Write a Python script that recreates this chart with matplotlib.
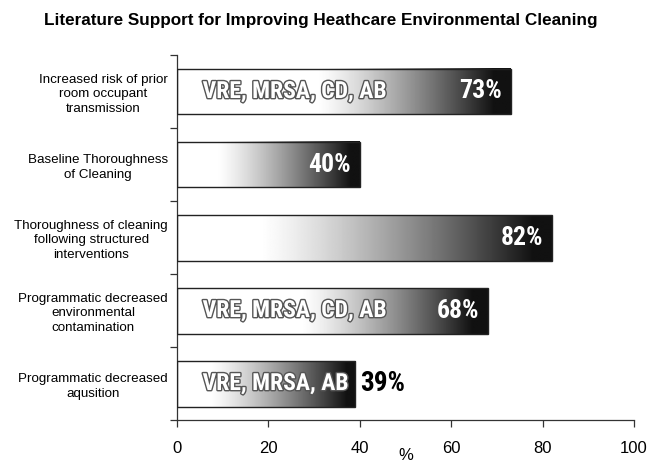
import os
import numpy as np
import matplotlib
matplotlib.use("Agg")
import matplotlib.pyplot as plt
import matplotlib.patheffects as pe
from matplotlib import font_manager as fm

categories = [
    "Increased risk of prior\nroom occupant\ntransmission",
    "Baseline Thoroughness\nof Cleaning",
    "Thoroughness of cleaning\nfollowing structured\ninterventions",
    "Programmatic decreased\nenvironmental\ncontamination",
    "Programmatic decreased\naqusition",
]
values = [73, 40, 82, 68, 39]
value_labels = ["73%", "40%", "82%", "68%", "39%"]
organisms = ["VRE, MRSA, CD, AB", "", "", "VRE, MRSA, CD, AB", "VRE, MRSA, AB"]
xticks = [0, 20, 40, 60, 80, 100]
title = "Literature Support for Improving Heathcare Environmental Cleaning"

# style: fraction of each bar that stays white before the gradient starts
gradient_start = [0.42, 0.22, 0.22, 0.40, 0.18]

# ---- find a condensed bold font if one is installed ----
files = [f.fname for f in fm.fontManager.ttflist]
prefs = ["LiberationSansNarrow-Bold.", "RobotoCondensed-Bold.",
         "OpenSansCondensed-Bold.", "OpenSans_Condensed-Bold.",
         "OpenSans-CondBold.", "NotoSans-CondensedBold.",
         "DejaVuSansCondensed-Bold.", "ArialNarrow-Bold", "arialnb"]
cond_file = None
for p in prefs:
    for fpath in files:
        if p.lower() in os.path.basename(fpath).lower():
            cond_file = fpath
            break
    if cond_file:
        break
if cond_file is None:
    for fpath in files:
        b = os.path.basename(fpath).lower()
        if ("condensed" in b or "narrow" in b) and "bold" in b and "italic" not in b \
                and "semi" not in b and "extra" not in b:
            cond_file = fpath
            break

def cfont(size):
    if cond_file:
        return fm.FontProperties(fname=cond_file, size=size)
    return fm.FontProperties(family="DejaVu Sans", weight="bold",
                             stretch="condensed", size=size * 0.8)

arial = "Liberation Sans"

fig = plt.figure(figsize=(6.5, 4.61), dpi=100)
ax = fig.add_axes([0.2723, 0.0889, 0.7031, 0.7918])

bar_h = 0.63
n = len(values)
t = np.linspace(0, 1, 400)

for i, (v, lab, org) in enumerate(zip(values, value_labels, organisms)):
    a = gradient_start[i]
    s = np.clip((t - a) / (0.95 - a), 0, 1)
    g = 0.07 + 0.93 * (1 - s ** 1.25)
    grad = g[np.newaxis, :]
    y0, y1 = i - bar_h / 2, i + bar_h / 2
    ax.imshow(grad, extent=[0, v, y1, y0], aspect="auto", cmap="gray",
              vmin=0, vmax=1, interpolation="bilinear", zorder=2)
    ax.barh(i, v, height=bar_h, facecolor="none", edgecolor="#222222",
            linewidth=1.0, zorder=3)
    if org:
        ax.text(5.6, i, org, ha="left", va="center", fontproperties=cfont(17),
                color="white", zorder=4,
                path_effects=[pe.withStroke(linewidth=2.0, foreground="#555555")])
    if v > 39.5:
        ax.text(v - 1.9, i, lab, ha="right", va="center", fontproperties=cfont(18.5),
                color="white", zorder=4)
    else:
        ax.text(v + 1.0, i, lab, ha="left", va="center", fontproperties=cfont(19.5),
                color="black", zorder=4)

ax.set_xlim(0, 100)
ax.set_ylim(n - 0.5, -0.5)
ax.set_xticks(xticks)
ax.set_xticklabels([str(x) for x in xticks], fontsize=12, family=arial)
ax.set_yticks(range(n))
ax.set_yticklabels(categories, fontsize=9.6, family=arial, ha="right",
                   multialignment="center", linespacing=1.3)
ax.tick_params(axis="y", which="major", length=0, pad=6.5)
ax.set_yticks(np.arange(-0.5, n, 1), minor=True)
ax.tick_params(axis="y", which="minor", length=5, width=0.9, color="#333333")
ax.tick_params(axis="x", which="major", length=5, width=0.9, color="#333333",
               direction="out", pad=10)
for sp in ["top", "right"]:
    ax.spines[sp].set_visible(False)
for sp in ["left", "bottom"]:
    ax.spines[sp].set_color("#333333")
    ax.spines[sp].set_linewidth(0.9)

ax.set_xlabel("%", fontsize=12, family=arial, labelpad=-6)
fig.text(0.494, 0.956, title, ha="center", va="center", fontsize=12.35,
         family=arial, weight="bold")

fig.savefig("out.png", dpi=100)
